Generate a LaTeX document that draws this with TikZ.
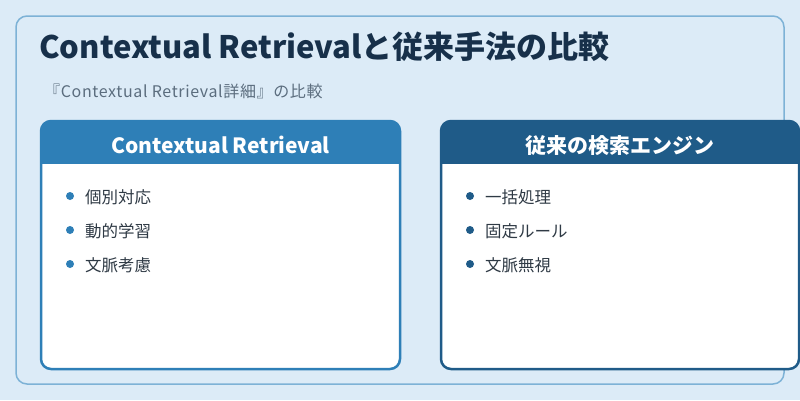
\documentclass[tikz,border=0pt]{standalone}
\usepackage{fontspec}
\setmainfont{Noto Sans CJK JP}
\newfontfamily\subl{Noto Sans CJK JP}[LetterSpace=4]
\definecolor{bg}{HTML}{DCEBF7}
\definecolor{outerc}{HTML}{7DB2D6}
\definecolor{leftc}{HTML}{2E7FB7}
\definecolor{rightc}{HTML}{1F5B88}
\definecolor{titlec}{HTML}{17304A}
\definecolor{subc}{HTML}{5B6D7E}
\definecolor{itemc}{HTML}{2F3A45}
\tikzset{
  headtext/.style={font=\fontsize{21}{24}\selectfont\bfseries, text=white, inner sep=0pt, anchor=base},
  itemtext/.style={font=\fontsize{16.5}{19}\selectfont, text=itemc, inner sep=0pt, anchor=base west},
  dot/.style={circle, inner sep=0pt, minimum size=8pt},
}
\begin{document}
\begin{tikzpicture}[x=1pt,y=-1pt]
\useasboundingbox (0,0) rectangle (800,400);
\fill[bg] (0,0) rectangle (800,400);
\draw[outerc, line width=1.5pt, rounded corners=11pt] (16,16) rectangle (784,384);
\node[font=\fontsize{31}{35}\selectfont\bfseries, text=titlec, inner sep=0pt, anchor=base west] (title) at (39,58) {Contextual Retrievalと従来手法の比較};
\node[font=\subl\fontsize{16}{19}\selectfont, text=subc, inner sep=0pt, anchor=base west] (sub) at (44,97) {『Contextual Retrieval詳細』の比較};
% left card
\fill[white, rounded corners=10pt] (41,121) rectangle (400,369);
\begin{scope}
\clip[rounded corners=10pt] (41,121) rectangle (400,369);
\fill[leftc] (41,121) rectangle (400,164);
\end{scope}
\draw[leftc, line width=2.5pt, rounded corners=10pt] (41,121) rectangle (400,369);
\node[headtext] (lh) at (220.5,153) {Contextual Retrieval};
\node[dot, fill=leftc] (ld1) at (70,196) {};
\node[dot, fill=leftc] (ld2) at (70,230) {};
\node[dot, fill=leftc] (ld3) at (70,264) {};
\node[itemtext] (li1) at (85,203) {個別対応};
\node[itemtext] (li2) at (85,237) {動的学習};
\node[itemtext] (li3) at (85,271) {文脈考慮};
% right card
\fill[white, rounded corners=10pt] (441,121) rectangle (799,369);
\begin{scope}
\clip[rounded corners=10pt] (441,121) rectangle (799,369);
\fill[rightc] (441,121) rectangle (799,164);
\end{scope}
\draw[rightc, line width=2.5pt, rounded corners=10pt] (441,121) rectangle (799,369);
\node[headtext] (rh) at (620,153) {従来の検索エンジン};
\node[dot, fill=rightc] (rd1) at (470,196) {};
\node[dot, fill=rightc] (rd2) at (470,230) {};
\node[dot, fill=rightc] (rd3) at (470,264) {};
\node[itemtext] (ri1) at (485,203) {一括処理};
\node[itemtext] (ri2) at (485,237) {固定ルール};
\node[itemtext] (ri3) at (485,271) {文脈無視};
\end{tikzpicture}
\end{document}
